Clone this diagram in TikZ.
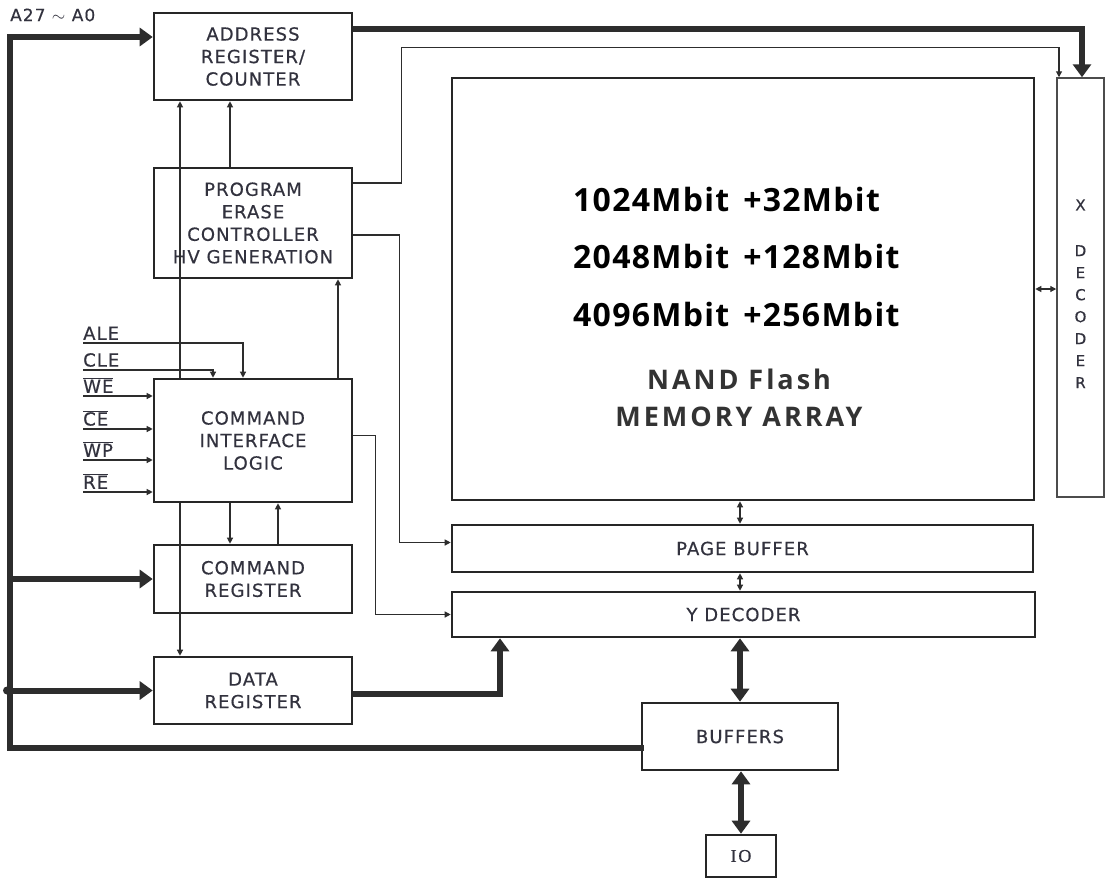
\documentclass[tikz,border=0pt]{standalone}
\usepackage{fontspec}
\usetikzlibrary{arrows.meta}
\newfontfamily\lblfont{DejaVu Sans}[LetterSpace=6,FakeBold=0.5]
\newfontfamily\bigfont{Open Sans}[LetterSpace=4]
\newfontfamily\nandfont{Open Sans}[LetterSpace=11]
\newfontfamily\serfont{Liberation Serif}[LetterSpace=10,FakeBold=0.5]
\definecolor{txt}{RGB}{50,50,62}
\definecolor{boxc}{RGB}{38,38,38}
\definecolor{linec}{RGB}{45,45,45}
\begin{document}
\begin{tikzpicture}[x=1pt,y=-1pt,
  box/.style={draw=boxc,line width=2.6pt,fill=white,font=\lblfont\fontsize{18}{22.5}\selectfont,text=txt,align=center,inner sep=0pt},
  sig/.style={draw=linec,line width=1.2pt,-{Triangle[length=6pt,width=6pt]}},
  sigd/.style={draw=linec,line width=1.2pt,{Triangle[length=6pt,width=6pt]}-{Triangle[length=6pt,width=6pt]}},
  bus/.style={draw=linec,line width=6pt,-{Triangle[length=13pt,width=18pt]}},
  busd/.style={draw=linec,line width=6pt,{Triangle[length=13pt,width=18pt]}-{Triangle[length=13pt,width=18pt]}},
  sigl/.style={font=\lblfont\fontsize{18}{20}\selectfont,text=txt,inner xsep=0pt,inner ysep=3pt,anchor=south west},
  bigt/.style={font=\bigfont\bfseries\fontsize{32}{38}\selectfont,text=black,inner sep=0pt,anchor=west},
  nandt/.style={font=\nandfont\bfseries\fontsize{27}{37}\selectfont,text=black!80,align=center,inner sep=0pt}
]
\useasboundingbox (0,0) rectangle (1106,881);
\fill[white] (0,0) rectangle (1106,881);

% boxes
\node[box,minimum width=198pt,minimum height=87pt] (addr) at (253,56.5) {ADDRESS\\REGISTER/\\COUNTER};
\node[box,minimum width=198pt,minimum height=110pt] (pe) at (253,223) {PROGRAM\\ERASE\\CONTROLLER\\HV GENERATION};
\node[box,minimum width=198pt,minimum height=123pt] (cil) at (253,440.5) {COMMAND\\INTERFACE\\LOGIC};
\node[box,minimum width=198pt,minimum height=68pt] (cmd) at (253,579) {COMMAND\\REGISTER};
\node[box,minimum width=198pt,minimum height=67pt] (data) at (253,690.5) {DATA\\REGISTER};
\node[box,minimum width=582pt,minimum height=422pt] (mem) at (743,289) {};
\node[box,draw=black!70,line width=1.5pt,minimum width=47pt,minimum height=419pt] (xdec) at (1080.5,287.5) {};
\node[box,minimum width=581pt,minimum height=47pt] (pb) at (742.5,548.5) {PAGE BUFFER};
\node[box,minimum width=583pt,minimum height=45pt] (yd) at (743.5,614.5) {Y DECODER};
\node[box,minimum width=196pt,minimum height=67pt] (buf) at (740,736.5) {BUFFERS};
\node[box,font=\serfont\fontsize{18}{20}\selectfont,minimum width=70pt,minimum height=42pt] (io) at (741,856) {IO};

% memory array text
\node[bigt] (m1) at (573,199) {1024Mbit\hskip 14pt+32Mbit};
\node[bigt] (m2) at (573,256) {2048Mbit\hskip 14pt+128Mbit};
\node[bigt] (m3) at (573,314) {4096Mbit\hskip 14pt+256Mbit};
\node[nandt] (m4) at (739,398) {NAND Flash\\MEMORY ARRAY};

% x decoder text
\node[font=\lblfont\fontsize{15}{22}\selectfont,text=txt,inner sep=0pt] (xl) at (1080.5,205) {X};
\node[font=\lblfont\fontsize{15}{22}\selectfont,text=txt,inner sep=0pt,align=center,anchor=north] (dl) at (1080.5,245) {D\\E\\C\\O\\D\\E\\R};

% address label
\node[font=\lblfont\fontsize{17}{20}\selectfont,text=txt,inner sep=0pt,anchor=west] (alab) at (10,15) {A27 $\sim$ A0};

% signal labels
\node[sigl] (ale) at (83,343) {ALE};
\node[sigl] (cle) at (83,370) {CLE};
\node[sigl] (we) at (83,396) {$\overline{\hbox{WE}}$};
\node[sigl] (ce) at (83,429) {$\overline{\hbox{CE}}$};
\node[sigl] (wp) at (83,460) {$\overline{\hbox{WP}}$};
\node[sigl] (re) at (83,492) {$\overline{\hbox{RE}}$};

\draw[sig] (ale.south west) -| ([xshift=-10pt]cil.north);
\draw[sig] (cle.south west) -| ([xshift=-40pt]cil.north);
\draw[sig] (we.south west) -- (we.south west -| cil.west);
\draw[sig] (ce.south west) -- (ce.south west -| cil.west);
\draw[sig] (wp.south west) -- (wp.south west -| cil.west);
\draw[sig] (re.south west) -- (re.south west -| cil.west);

% vertical thin connectors
\draw[sig] ([xshift=-73pt]cil.north) -- ([xshift=-73pt]addr.south);
\draw[sig] ([xshift=-73pt]cil.south) -- ([xshift=-73pt]data.north);
\draw[sig] ([xshift=-23pt]pe.north) -- ([xshift=-23pt]addr.south);
\draw[sig] ([xshift=-23pt]cil.south) -- ([xshift=-23pt]cmd.north);
\draw[sig] ([xshift=25pt]cmd.north) -- ([xshift=25pt]cil.south);
\draw[sig] ([xshift=85pt]cil.north) -- ([xshift=85pt]pe.south);

% thin routed connectors
\draw[sig] ([yshift=40pt]pe.east) -- ++(48,0) |- ([xshift=-21.5pt,yshift=30pt]xdec.north) -- ([xshift=-21.5pt]xdec.north);
\draw[sig] ([yshift=-12pt]pe.east) -- ++(46,0) |- ([yshift=6pt]pb.west);
\draw[sig] ([yshift=5pt]cil.east) -- ++(22,0) |- ([yshift=0pt]yd.west);

% small double arrows
\draw[sigd] (mem.east) -- (mem.east -| xdec.west);
\draw[sigd] ([xshift=-3pt]mem.south) -- ([xshift=-3pt]mem.south |- pb.north);
\draw[sigd] ([xshift=-2.5pt]pb.south) -- ([xshift=-2.5pt]pb.south |- yd.north);

% buses
\coordinate (bustop) at (10,37);
\coordinate (busbot) at (10,748);
\draw[bus,-,line cap=rect] (bustop) -- (busbot) -- (busbot -| buf.west);
\draw[bus] (bustop) -- (bustop -| addr.west);
\draw[bus] (busbot |- cmd.west) -- (cmd.west);
\draw[bus] (busbot |- data.west) -- (data.west);
\fill[linec] (busbot |- data.west) ++(-3,0) circle (4);
\draw[bus] ([yshift=27.5pt]addr.east) -| ([xshift=1.5pt]xdec.north);
\draw[bus] ([yshift=-3pt]data.east) -| ([xshift=-243.5pt]yd.south);
\draw[busd] (buf.north |- yd.south) -- (buf.north);
\draw[busd] (io.north |- buf.south) -- (io.north);
\end{tikzpicture}
\end{document}
